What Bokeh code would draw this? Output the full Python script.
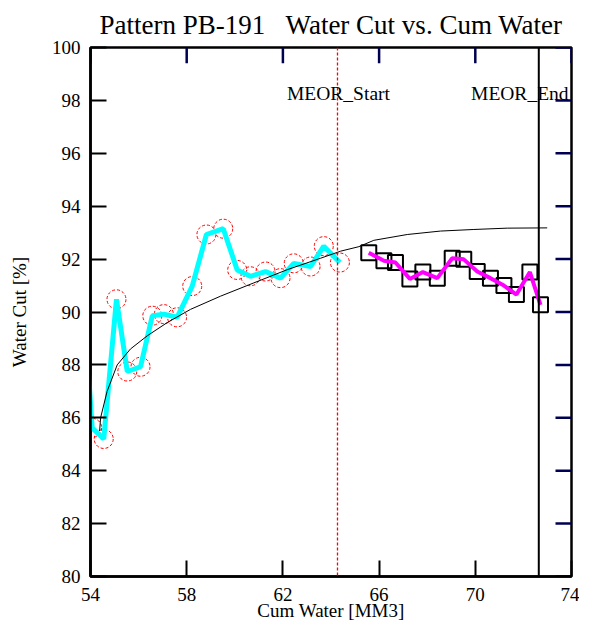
from bokeh.plotting import figure
from bokeh.models import LinearAxis, FixedTicker, Span, Label, Range1d
from bokeh.embed import file_html
from bokeh.resources import INLINE

# Pre-MEOR water cut history (cyan) with red dashed circles
hist_x = [53.85, 54.07, 54.55, 55.08, 55.53, 56.08, 56.57, 57.05, 57.60, 58.23,
          58.82, 59.52, 60.10, 60.65, 61.28, 61.90, 62.45, 63.15, 63.70, 64.37]
hist_y = [88.6, 85.62, 85.20, 90.48, 87.75, 87.93, 89.86, 89.92, 89.80, 90.98,
          92.93, 93.15, 91.59, 91.35, 91.53, 91.28, 91.84, 91.72, 92.49, 91.87]

# Fitted trend curve (black)
fit_x = [54.38, 54.42, 54.69, 55.11, 55.66, 56.36, 57.19, 58.16, 59.41, 60.79,
         62.18, 63.56, 64.40, 65.16, 65.78, 67.17, 68.55, 69.94, 71.33, 72.99]
fit_y = [85.5, 86.0, 87.0, 88.0, 88.6, 89.1, 89.6, 90.1, 90.6, 91.1,
         91.6, 92.03, 92.3, 92.47, 92.71, 92.93, 93.06, 93.12, 93.17, 93.18]

# During-MEOR water cut (magenta) with black squares
meor_x = [65.57, 66.20, 66.68, 67.28, 67.82, 68.42, 69.04, 69.52, 70.08, 70.63,
          71.19, 71.71, 72.27, 72.71]
meor_y = [92.24, 91.94, 91.87, 91.25, 91.51, 91.28, 92.03, 91.99, 91.53, 91.28,
          91.00, 90.66, 91.51, 90.27]

# Event markers
event_x = [64.27, 72.64]
event_names = ["MEOR_Start", "MEOR_End"]
event_label_y = 98.25

x_ticks = [54, 58, 62, 66, 70, 74]
y_ticks = [80, 82, 84, 86, 88, 90, 92, 94, 96, 98, 100]
x_min, x_max = 54, 74
y_min, y_max = 80, 100

FONT = "Liberation Serif"
TICK_LEN = 16            # px
TICK_COLOR = "#000050"
W, H = 579, 623
B_LEFT, B_RIGHT, B_TOP, B_BOTTOM = 90, 8, 41, 45
FRAME_W = W - B_LEFT - B_RIGHT
FRAME_H = H - B_TOP - B_BOTTOM

p = figure(width=W, height=H,
           x_range=Range1d(x_min, x_max), y_range=Range1d(y_min, y_max),
           output_backend="svg", toolbar_location=None,
           x_axis_location=None, y_axis_location=None,
           min_border_left=B_LEFT, min_border_right=B_RIGHT,
           min_border_top=B_TOP, min_border_bottom=B_BOTTOM)
p.grid.visible = False
p.outline_line_color = "black"
p.outline_line_width = 2.5
p.background_fill_color = "white"
p.border_fill_color = "white"

p.title.text = "Pattern PB-191 \u00a0\u00a0Water Cut vs. Cum Water"
p.title.align = "center"
p.title.text_font = FONT
p.title.text_font_style = "normal"
p.title.text_font_size = "27px"
p.title.text_color = "black"
p.title.standoff = 15


def make_axis(ticks, axis_label):
    ax = LinearAxis(ticker=FixedTicker(ticks=ticks))
    ax.major_tick_in = TICK_LEN
    ax.major_tick_out = 0
    ax.minor_tick_in = 0
    ax.minor_tick_out = 0
    ax.major_tick_line_width = 2
    ax.axis_line_width = 2.5
    ax.axis_line_color = "black"
    ax.major_tick_line_color = "black"
    ax.major_label_text_font = FONT
    ax.major_label_text_font_size = "19px"
    ax.major_label_text_color = "black"
    ax.axis_label = axis_label
    ax.axis_label_text_font = FONT
    ax.axis_label_text_font_style = "normal"
    ax.axis_label_text_font_size = "19px"
    ax.axis_label_text_color = "black"
    return ax


bottom = make_axis(x_ticks, "Cum Water [MM3]")
bottom.major_label_standoff = 11
bottom.axis_label_standoff = -4
p.add_layout(bottom, "below")

left = make_axis(y_ticks, "Water Cut [%]")
left.major_label_standoff = 10
left.axis_label_standoff = 19
p.add_layout(left, "left")

# Inward ticks on the top edge (segments) and right edge (dash markers)
dy_tick = TICK_LEN * (y_max - y_min) / FRAME_H
p.segment(x0=x_ticks, y0=[y_max] * len(x_ticks),
          x1=x_ticks, y1=[y_max - dy_tick] * len(x_ticks),
          line_color=TICK_COLOR, line_width=2.5)
p.scatter(x=[x_max] * len(y_ticks), y=y_ticks, marker="dash",
          size=2 * TICK_LEN, line_color=TICK_COLOR, line_width=2.5)

# Event lines
p.add_layout(Span(location=event_x[0], dimension="height", line_color="red",
                  line_width=1.3, line_dash="3 2"))
p.add_layout(Span(location=event_x[1], dimension="height", line_color="black",
                  line_width=2))
for ex, name, dx in zip(event_x, event_names, [1, -19]):
    p.add_layout(Label(x=ex, y=event_label_y, text=name, text_align="center",
                       text_baseline="middle", text_font=FONT,
                       text_font_size="19.5px", text_color="black", x_offset=dx))

# History markers and line
p.scatter(hist_x[1:], hist_y[1:], marker="circle", size=19, fill_color=None,
          line_color="red", line_width=1, line_dash="3 2")
p.line(hist_x, hist_y, line_color="cyan", line_width=5)

# Fit curve
p.line(fit_x, fit_y, line_color="black", line_width=1)

# MEOR markers and line
p.scatter(meor_x, meor_y, marker="square", size=15, fill_color=None,
          line_color="black", line_width=2)
p.line(meor_x, meor_y, line_color="magenta", line_width=4)

open("out.html", "w").write(file_html(p, INLINE))
